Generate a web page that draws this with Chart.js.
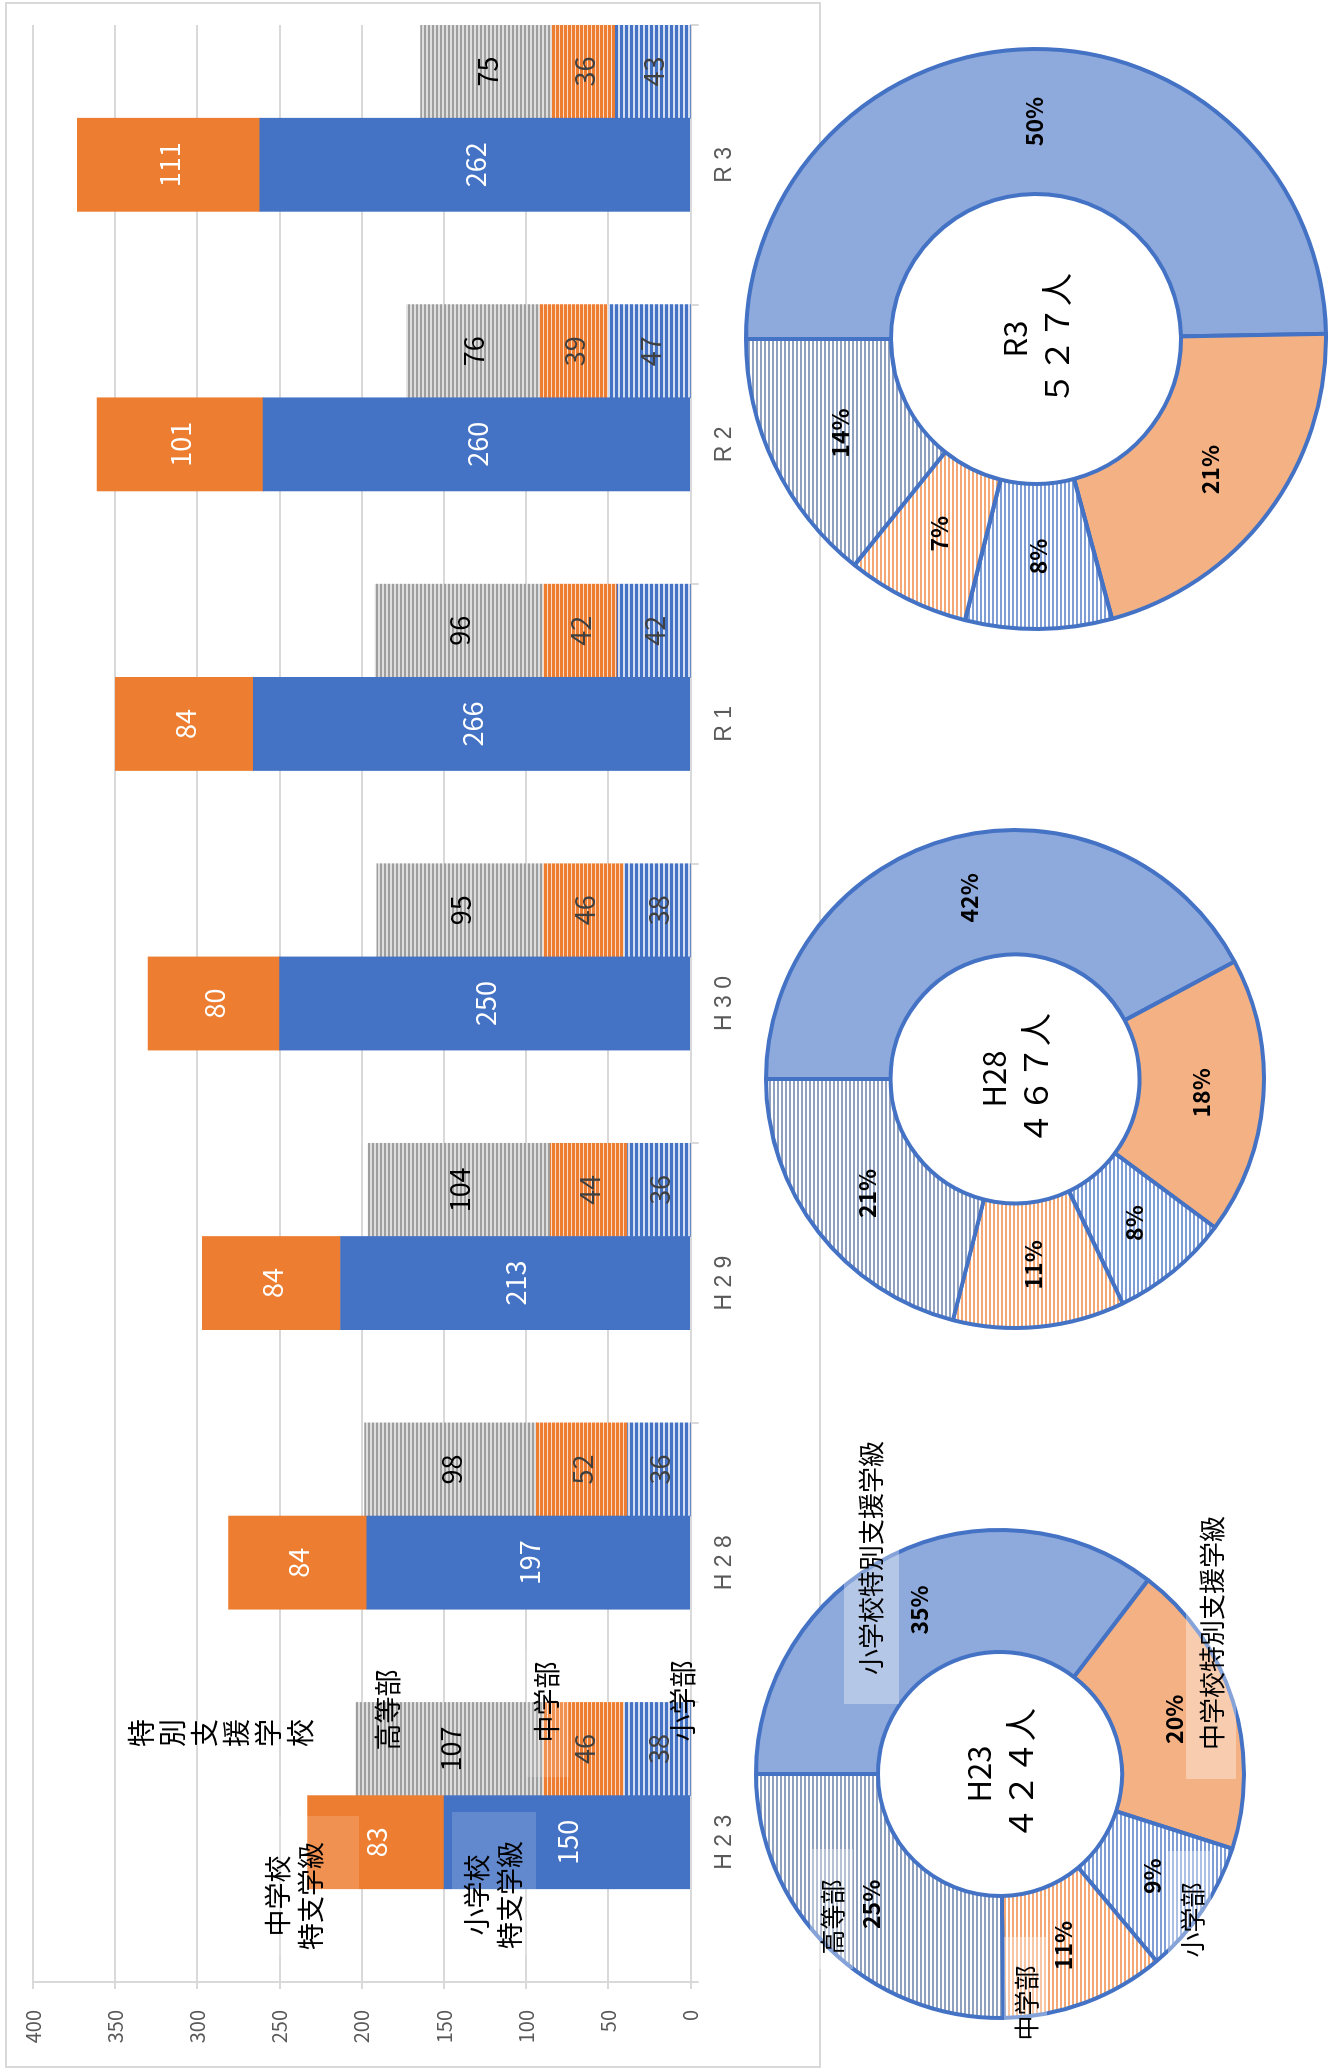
<!DOCTYPE html>
<html lang="ja">
<head>
<meta charset="utf-8">
<script src="https://cdn.jsdelivr.net/npm/chart.js@4.4.1/dist/chart.umd.min.js"></script>
<style>
html, body { margin: 0; padding: 0; background: #fff; overflow: hidden; }
body { width: 1340px; height: 2070px; position: relative; }
/* 元のグラフは横長 (2070x1340) で、それを左に90度回転して置く */
#stage { position: absolute; left: 0; top: 0; width: 2070px; height: 1340px;
  transform-origin: 0 0; transform: translate(0, 2070px) rotate(-90deg); }
#frame { position: absolute; left: 2px; top: 5px; width: 2062px; height: 812px; border: 2px solid #D9D9D9; }
canvas { position: absolute; }
</style>
</head>
<body>
<div id="stage">
  <div id="frame"></div>
  <canvas id="bars" width="2070" height="820" style="left:0;top:0;width:2070px;height:820px"></canvas>
</div>
<script>
// データ
const categories = ['H 2 3', 'H 2 8', 'H 2 9', 'H 3 0', 'R 1', 'R 2', 'R 3'];
const elemClass = [150, 197, 213, 250, 266, 260, 262];   // 小学校特別支援学級
const juniorClass = [83, 84, 84, 80, 84, 101, 111];      // 中学校特別支援学級
const elemDept = [38, 36, 36, 38, 42, 47, 43];           // 特別支援学校 小学部
const juniorDept = [46, 52, 44, 46, 42, 39, 36];         // 特別支援学校 中学部
const highDept = [107, 98, 104, 95, 96, 76, 75];         // 特別支援学校 高等部
const seriesNames = ['小学校特別支援学級', '中学校特別支援学級', '小学部', '中学部', '高等部'];
const donutTitles = ['H23', 'H28', 'R3'];
const donutIndex = [0, 1, 6];

const FONT = '"Noto Sans CJK JP", "Noto Sans", sans-serif';
Chart.defaults.font.family = FONT;

// 縞模様 (横線) のパターン
function stripes(line, bg, lw, period) {
    const c = document.createElement('canvas');
    c.width = period; c.height = period;
    const g = c.getContext('2d');
    g.fillStyle = bg; g.fillRect(0, 0, period, period);
    g.fillStyle = line; g.fillRect(0, 0, period, lw);
    return g.createPattern(c, 'repeat');
}

function fullWidth(n) {
    return String(n).replace(/[0-9]/g, d => String.fromCharCode(d.charCodeAt(0) + 0xFEE0));
}

// 棒グラフ上の注記
const barNotes = [
    { lines: ['中学校', '特支学級'], x: 174, y: 278, box: [115, 258, 139, 101] },
    { lines: ['小学校', '特支学級'], x: 175, y: 477, box: [115, 452, 143, 84] },
    { lines: ['高等部'], x: 360, y: 388 },
    { lines: ['中学部'], x: 368, y: 547, box: [293, 526, 125, 43] },
    { lines: ['小学部'], x: 369, y: 683 }
];

const barPlugin = {
    id: 'barPlugin',
    afterDatasetsDraw(chart) {
        const ctx = chart.ctx;
        ctx.save();
        ctx.textAlign = 'center';
        ctx.textBaseline = 'middle';
        // 注記の半透明の箱
        ctx.fillStyle = 'rgba(255,255,255,0.16)';
        barNotes.forEach(n => { if (n.box) ctx.fillRect(n.box[0], n.box[1], n.box[2], n.box[3]); });
        // 値ラベル
        ctx.font = '27px ' + FONT;
        chart.data.datasets.forEach((ds, i) => {
            if (!ds.labelColor) return;
            chart.getDatasetMeta(i).data.forEach((bar, j) => {
                const v = ds.data[j];
                if (v == null) return;
                ctx.fillStyle = ds.labelColor;
                ctx.fillText(v, bar.x, (bar.y + bar.base) / 2 + 1);
            });
        });
        // 注記テキスト
        ctx.fillStyle = '#000';
        ctx.font = '27px ' + FONT;
        barNotes.forEach(n => {
            n.lines.forEach((t, k) => ctx.fillText(t, n.x, n.y + k * 33));
        });
        ctx.font = '28px ' + FONT;
        '特別支援学校'.split('').forEach((ch, k) => ctx.fillText(ch, 337, 141 + k * 31.8));
        ctx.restore();
    }
};

window.onload = () => {
    const none = categories.map(() => null);
    new Chart(document.getElementById('bars'), {
        type: 'bar',
        data: {
            labels: categories,
            datasets: [
                { label: '', data: none, stack: 'gap', yAxisID: 'y' },
                { label: seriesNames[0], data: elemClass, backgroundColor: '#4472C4', stack: 'cls', yAxisID: 'y', labelColor: '#fff' },
                { label: seriesNames[1], data: juniorClass, backgroundColor: '#ED7D31', stack: 'cls', yAxisID: 'y', labelColor: '#fff' },
                { label: seriesNames[2], data: elemDept, backgroundColor: stripes('#4472C4', '#D3DEF2', 3, 5), stack: 'sch', yAxisID: 'y2', labelColor: '#404040' },
                { label: seriesNames[3], data: juniorDept, backgroundColor: stripes('#ED7D31', '#FBDCC6', 3, 4), stack: 'sch', yAxisID: 'y2', labelColor: '#404040' },
                { label: seriesNames[4], data: highDept, backgroundColor: stripes('#9E9E9E', '#DEDEDE', 2, 4), stack: 'sch', yAxisID: 'y2', labelColor: '#000' }
            ]
        },
        options: {
            responsive: false,
            animation: false,
            layout: { padding: { left: 0, right: 25, top: 24, bottom: 0 } },
            datasets: { bar: { categoryPercentage: 1, barPercentage: 1 } },
            plugins: { legend: { display: false }, tooltip: { enabled: false } },
            scales: {
                x: {
                    grid: { display: true, drawOnChartArea: false, offset: true, color: '#D9D9D9', lineWidth: 2, tickLength: 8 },
                    border: { display: true, color: '#D9D9D9', width: 2 },
                    ticks: { color: '#595959', font: { size: 23, family: '"Liberation Sans", sans-serif' }, padding: 12, maxRotation: 0 },
                    afterFit(s) { s.height = 129.3; }
                },
                y: {
                    min: 0, max: 400, stacked: true,
                    ticks: { stepSize: 50, color: '#595959', font: { size: 20 }, padding: 21 },
                    grid: { color: '#D9D9D9', lineWidth: 2, tickLength: 7 },
                    border: { display: true, color: '#D9D9D9', width: 2 },
                    afterFit(s) { s.width = 88; }
                },
                y2: { display: false, min: 0, max: 375, stacked: true }
            }
        },
        plugins: [barPlugin]
    });

    // ドーナツ
    const donutLayout = [
        { cx: 296, cy: 1000, r: 244, size: 760 },
        { cx: 991, cy: 1015, r: 249, size: 540 },
        { cx: 1731, cy: 1036, r: 290, size: 600 }
    ];
    // H23 のドーナツだけに付いている系列名
    const donutNotes = [
        { text: '小学校特別支援学級', x: 512, y: 871, size: 26, box: [366, 844, 276, 55] },
        { text: '中学校特別支援学級', x: 437, y: 1212, size: 26, box: [291, 1186, 275, 50] },
        { text: '小学部', x: 150, y: 1192, size: 25, box: [108, 1168, 111, 43] },
        { text: '中学部', x: 67, y: 1026, size: 25, box: [20, 1004, 113, 43] },
        { text: '高等部', x: 153, y: 832, size: 25, box: [101, 810, 120, 43] }
    ];
    const stage = document.getElementById('stage');

    donutIndex.forEach((idx, k) => {
        const L = donutLayout[k];
        const cv = document.createElement('canvas');
        cv.width = L.size; cv.height = L.size;
        const ox = L.cx - L.size / 2, oy = L.cy - L.size / 2;
        cv.style.left = ox + 'px'; cv.style.top = oy + 'px';
        cv.style.width = L.size + 'px'; cv.style.height = L.size + 'px';
        stage.appendChild(cv);
        const vals = [elemClass[idx], juniorClass[idx], elemDept[idx], juniorDept[idx], highDept[idx]];
        const total = vals.reduce((a, b) => a + b, 0);
        const pad = (L.size - 4 - 2 * L.r) / 2;
        const notes = k === 0 ? donutNotes : [];

        const donutPlugin = {
            id: 'donutText',
            afterDatasetsDraw(chart) {
                const ctx = chart.ctx;
                ctx.save();
                ctx.textAlign = 'center';
                ctx.textBaseline = 'middle';
                ctx.fillStyle = 'rgba(255,255,255,0.35)';
                notes.forEach(n => ctx.fillRect(n.box[0] - ox, n.box[1] - oy, n.box[2], n.box[3]));
                ctx.fillStyle = '#000';
                notes.forEach(n => {
                    ctx.font = n.size + 'px ' + FONT;
                    ctx.fillText(n.text, n.x - ox, n.y - oy);
                });
                ctx.font = 'bold 23px ' + FONT;
                chart.getDatasetMeta(0).data.forEach((arc, i) => {
                    const p = arc.getCenterPoint();
                    ctx.fillText(Math.round(vals[i] / total * 100) + '%', p.x, p.y);
                });
                const c = chart.getDatasetMeta(0).data[0];
                ctx.font = '31px ' + FONT;
                ctx.fillText(donutTitles[k], c.x, c.y - 21);
                ctx.font = '33px ' + FONT;
                ctx.fillText(fullWidth(total) + '人', c.x, c.y + 20);
                ctx.restore();
            }
        };

        new Chart(cv, {
            type: 'doughnut',
            data: {
                labels: seriesNames,
                datasets: [{
                    data: vals,
                    backgroundColor: ['#8EA9DB', '#F4B183',
                        stripes('#7F9ED6', '#FFFFFF', 2, 4),
                        stripes('#F3A875', '#FFFFFF', 2, 4),
                        stripes('#8FA1BE', '#FFFFFF', 2, 4)],
                    borderColor: '#4472C4',
                    borderWidth: 4
                }]
            },
            options: {
                responsive: false,
                animation: false,
                cutout: '50%',
                layout: { padding: pad },
                plugins: { legend: { display: false }, tooltip: { enabled: false } }
            },
            plugins: [donutPlugin]
        });
    });
};
</script>
</body>
</html>
